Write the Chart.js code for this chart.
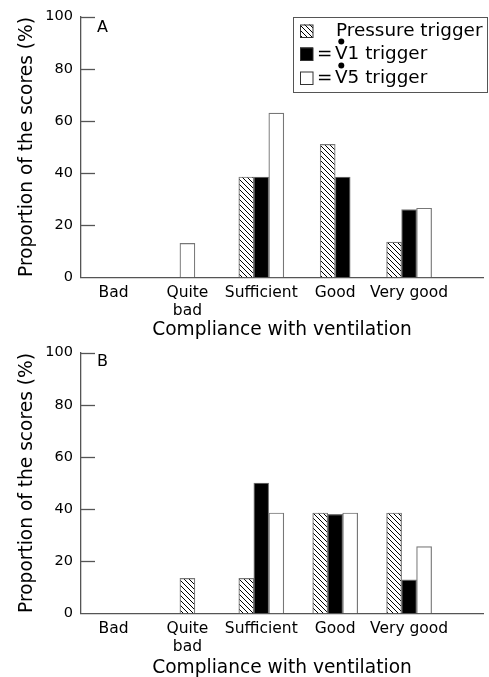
<!DOCTYPE html>
<html>
<head>
<meta charset="utf-8">
<script src="https://cdn.jsdelivr.net/npm/chart.js@4"></script>
<style>
  body { margin: 0; background: #fff; }
  .panel { position: absolute; left: 0; width: 489px; }
</style>
</head>
<body>
<div class="panel" style="top:0;height:345px"><canvas id="chartA"></canvas></div>
<div class="panel" style="top:335px;height:342px"><canvas id="chartB"></canvas></div>
<script>
// data
const categories = ['Bad', ['Quite', 'bad'], 'Sufficient', 'Good', 'Very good'];
const seriesNames = ['Pressure trigger', 'V1 trigger', 'V5 trigger'];
const pressureA = [0, 0, 38.5, 51, 13.5];
const v1A = [0, 0, 38.5, 38.5, 26];
const v5A = [0, 13, 63, 0, 26.5];
const pressureB = [0, 13.4, 13.4, 38.5, 38.5];
const v1B = [0, 0, 50, 38, 12.8];
const v5B = [0, 0, 38.5, 38.5, 25.6];
const yTicks = [0, 20, 40, 60, 80, 100];

const FONT = 'DejaVu Sans';
const AXIS = '#555';

// hatch pattern for the pressure trigger bars
function makeHatch() {
  const s = 5;
  const c = document.createElement('canvas');
  c.width = s; c.height = s;
  const g = c.getContext('2d');
  g.fillStyle = '#fff';
  g.fillRect(0, 0, s, s);
  g.strokeStyle = '#000';
  g.lineWidth = 1;
  g.beginPath();
  g.moveTo(-1, -1); g.lineTo(s + 1, s + 1);
  g.moveTo(-1, s - 1); g.lineTo(1, s + 1);
  g.moveTo(s - 1, -1); g.lineTo(s + 1, 1);
  g.stroke();
  return g.createPattern(c, 'repeat');
}
const hatch = makeHatch();
const fills = [hatch, '#000', '#fff'];

function toPoints(arr) {
  // zero scores have no bar at all
  return arr.map((v, i) => ({ x: i, y: v === 0 ? null : v }));
}

// ticks on the inner side of the y axis + panel letter + legend
const extras = {
  id: 'extras',
  afterDraw(chart, args, opts) {
    const ctx = chart.ctx;
    const y = chart.scales.y;
    const left = chart.chartArea.left;
    ctx.save();
    ctx.strokeStyle = AXIS;
    ctx.lineWidth = 1.3;
    yTicks.forEach(t => {
      if (t === 0) return;
      const py = Math.round(y.getPixelForValue(t)) + 0.5;
      ctx.beginPath();
      ctx.moveTo(left, py);
      ctx.lineTo(left + 14, py);
      ctx.stroke();
    });
    ctx.fillStyle = '#000';
    ctx.font = '16px "' + FONT + '"';
    ctx.textBaseline = 'middle';
    ctx.textAlign = 'left';
    ctx.fillText(opts.letter, 97, opts.letterY);

    if (opts.legend) {
      ctx.strokeStyle = AXIS;
      ctx.lineWidth = 1;
      ctx.strokeRect(293.5, 17.5, 194, 75);
      const rows = [31, 54, 78];
      ctx.font = '18.4px "' + FONT + '"';
      rows.forEach((ry, i) => {
        ctx.fillStyle = fills[i];
        ctx.fillRect(300, ry - 6.5, 13, 13);
        ctx.strokeStyle = '#333';
        ctx.strokeRect(300.5, ry - 6, 12.5, 12.5);
        ctx.fillStyle = '#000';
        if (i === 0) {
          ctx.fillText(seriesNames[0], 336, ry);
        } else {
          ctx.fillText('=', 317, ry);
          ctx.fillText(seriesNames[i], 335, ry);
          const vw = ctx.measureText('V').width;
          ctx.beginPath();
          ctx.arc(335 + vw / 2, ry - 12.5, 3, 0, Math.PI * 2);
          ctx.fill();
        }
      });
    }
    ctx.restore();
  }
};

function makeChart(id, series, cfg) {
  return new Chart(document.getElementById(id), {
    type: 'bar',
    data: {
      datasets: series.map((arr, i) => ({
        label: seriesNames[i],
        data: toPoints(arr),
        backgroundColor: fills[i],
        borderColor: '#777',
        borderWidth: 1.2,
        borderSkipped: 'bottom',
        barThickness: 15,
        skipNull: true
      }))
    },
    options: {
      responsive: true,
      maintainAspectRatio: false,
      devicePixelRatio: 1,
      animation: false,
      layout: { padding: { top: cfg.top, left: 0, right: 0, bottom: 0 } },
      plugins: {
        legend: { display: false },
        tooltip: { enabled: false },
        extras: { letter: cfg.letter, letterY: cfg.letterY, legend: cfg.legend }
      },
      scales: {
        x: {
          type: 'linear',
          offset: false,
          min: -0.44,
          max: 5.0,
          grid: { display: false, drawTicks: false, offset: false },
          border: { color: AXIS, width: 1.3 },
          ticks: {
            stepSize: 1,
            includeBounds: false,
            autoSkip: false,
            maxRotation: 0,
            minRotation: 0,
            padding: 6,
            color: '#000',
            font: { family: FONT, size: 15.5, lineHeight: 1.2 },
            callback: v => (Number.isInteger(v) && categories[v] !== undefined) ? categories[v] : ''
          },
          title: {
            display: true,
            text: 'Compliance with ventilation',
            color: '#000',
            font: { family: FONT, size: 18.6, lineHeight: 1 },
            padding: { top: 0, bottom: cfg.titlePad }
          },
          afterFit: s => { s.height = cfg.xHeight; }
        },
        y: {
          min: 0,
          max: 100,
          grid: { display: false, drawTicks: false },
          border: { color: AXIS, width: 1.3 },
          ticks: {
            stepSize: 20,
            padding: 8,
            color: '#000',
            font: { family: FONT, size: 14.5 }
          },
          title: {
            display: true,
            text: 'Proportion of the scores (%)',
            color: '#000',
            font: { family: FONT, size: 18.6, lineHeight: 1 },
            padding: { top: 17.7, bottom: 0 }
          },
          afterFit: s => { s.width = 81; }
        }
      }
    },
    plugins: [extras]
  });
}

makeChart('chartA', [pressureA, v1A, v5A],
  { top: 16, xHeight: 67.7, titlePad: 5.7, letter: 'A', letterY: 27.5, legend: true });
makeChart('chartB', [pressureB, v1B, v5B],
  { top: 17.7, xHeight: 63.7, titlePad: 0, letter: 'B', letterY: 26.5, legend: false });
</script>
</body>
</html>
